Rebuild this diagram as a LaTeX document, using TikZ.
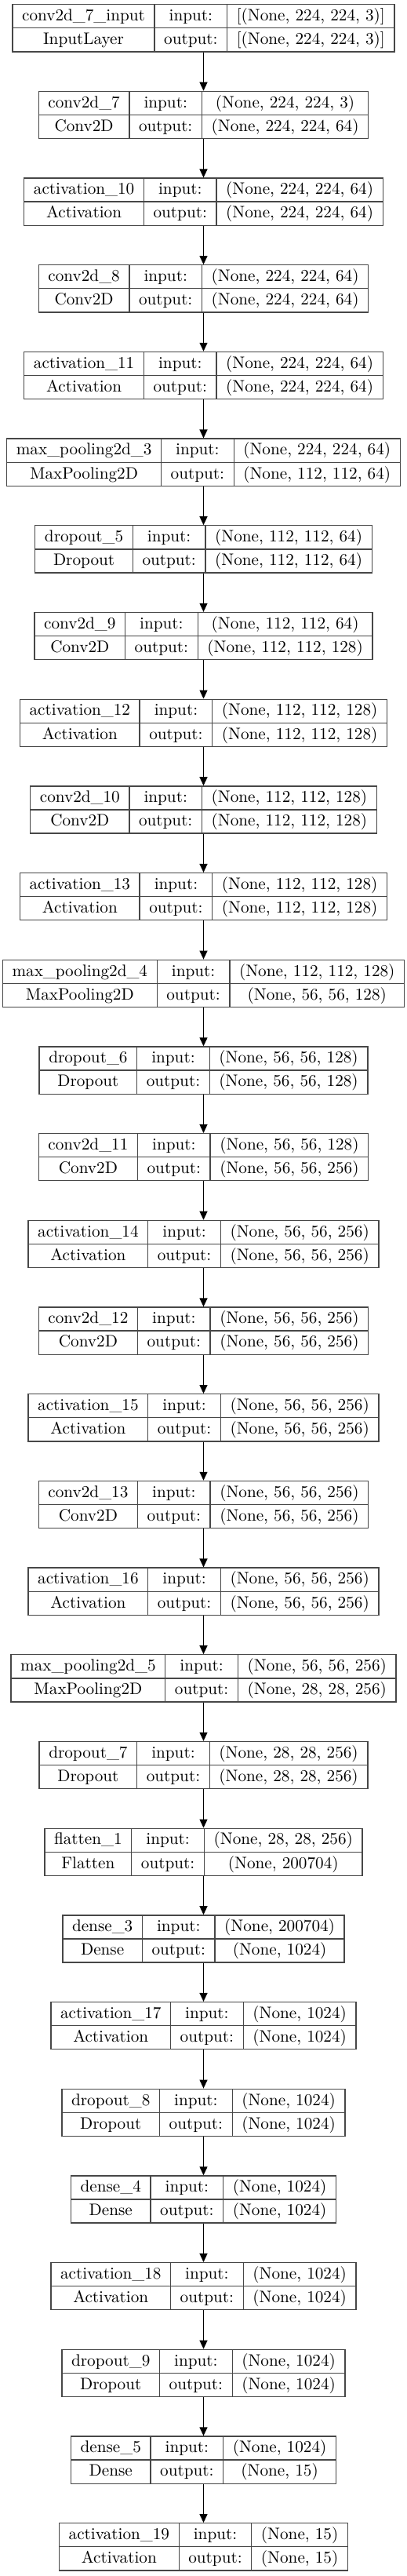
\documentclass[tikz,border=0pt]{standalone}
\usepackage{colortbl}
\usetikzlibrary{arrows.meta}
\newcommand\lfont{\fontsize{10.6}{12.5}\selectfont}
\setlength\tabcolsep{5.75pt}
\setlength\arrayrulewidth{.65pt}
\renewcommand\arraystretch{1.152}
\arrayrulecolor{black!72}
\tikzset{
	layerbox/.style={inner sep=0pt, outer sep=0pt, anchor=north, font=\lfont}
}
\begin{document}
\begin{tikzpicture}[x=1pt, y=1pt, line join=round, >={Triangle[length=5.5pt,width=5pt]}]
	\useasboundingbox (0,0) rectangle (259.5,-1641.5);
	\foreach \nm/\tp/\shin/\shout [count=\i] in {
		conv2d\_7\_input/InputLayer/{[(None, 224, 224, 3)]}/{[(None, 224, 224, 3)]},
		conv2d\_7/Conv2D/{(None, 224, 224, 3)}/{(None, 224, 224, 64)},
		activation\_10/Activation/{(None, 224, 224, 64)}/{(None, 224, 224, 64)},
		conv2d\_8/Conv2D/{(None, 224, 224, 64)}/{(None, 224, 224, 64)},
		activation\_11/Activation/{(None, 224, 224, 64)}/{(None, 224, 224, 64)},
		max\_pooling2d\_3/MaxPooling2D/{(None, 224, 224, 64)}/{(None, 112, 112, 64)},
		dropout\_5/Dropout/{(None, 112, 112, 64)}/{(None, 112, 112, 64)},
		conv2d\_9/Conv2D/{(None, 112, 112, 64)}/{(None, 112, 112, 128)},
		activation\_12/Activation/{(None, 112, 112, 128)}/{(None, 112, 112, 128)},
		conv2d\_10/Conv2D/{(None, 112, 112, 128)}/{(None, 112, 112, 128)},
		activation\_13/Activation/{(None, 112, 112, 128)}/{(None, 112, 112, 128)},
		max\_pooling2d\_4/MaxPooling2D/{(None, 112, 112, 128)}/{(None, 56, 56, 128)},
		dropout\_6/Dropout/{(None, 56, 56, 128)}/{(None, 56, 56, 128)},
		conv2d\_11/Conv2D/{(None, 56, 56, 128)}/{(None, 56, 56, 256)},
		activation\_14/Activation/{(None, 56, 56, 256)}/{(None, 56, 56, 256)},
		conv2d\_12/Conv2D/{(None, 56, 56, 256)}/{(None, 56, 56, 256)},
		activation\_15/Activation/{(None, 56, 56, 256)}/{(None, 56, 56, 256)},
		conv2d\_13/Conv2D/{(None, 56, 56, 256)}/{(None, 56, 56, 256)},
		activation\_16/Activation/{(None, 56, 56, 256)}/{(None, 56, 56, 256)},
		max\_pooling2d\_5/MaxPooling2D/{(None, 56, 56, 256)}/{(None, 28, 28, 256)},
		dropout\_7/Dropout/{(None, 28, 28, 256)}/{(None, 28, 28, 256)},
		flatten\_1/Flatten/{(None, 28, 28, 256)}/{(None, 200704)},
		dense\_3/Dense/{(None, 200704)}/{(None, 1024)},
		activation\_17/Activation/{(None, 1024)}/{(None, 1024)},
		dropout\_8/Dropout/{(None, 1024)}/{(None, 1024)},
		dense\_4/Dense/{(None, 1024)}/{(None, 1024)},
		activation\_18/Activation/{(None, 1024)}/{(None, 1024)},
		dropout\_9/Dropout/{(None, 1024)}/{(None, 1024)},
		dense\_5/Dense/{(None, 1024)}/{(None, 15)},
		activation\_19/Activation/{(None, 15)}/{(None, 15)}}{
		% one table per layer, stacked down the page
		\pgfmathsetmacro\yt{-(2.5+(\i-1)*55.345)}
		\node[layerbox] (L\i) at (129.75,\yt) {\begin{tabular}{|c|c|c|}\hline
				\nm & input: & \shin \\ \hline
				\tp & output: & \shout \\ \hline
			\end{tabular}};
	}
	\foreach \i [evaluate=\i as \j using int(\i+1)] in {1,...,29}
		\draw[->, line width=.65pt] (L\i.south) -- (L\j.north);
\end{tikzpicture}
\end{document}
